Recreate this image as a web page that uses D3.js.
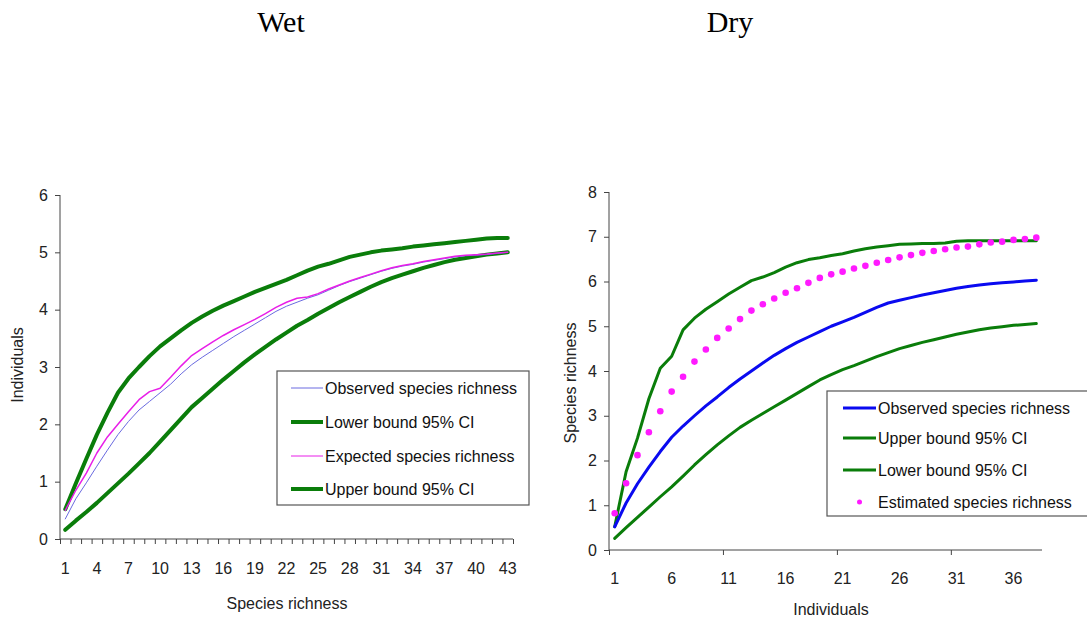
<!DOCTYPE html>
<html><head><meta charset="utf-8">
<script src="https://cdn.jsdelivr.net/npm/d3@7"></script>
<style>
body{margin:0;background:#fff;}
svg{display:block;}
.ax path,.ax line{stroke:#444;}
.ax text{font-family:Arial,"Liberation Sans",sans-serif;fill:#222;}
</style></head>
<body><svg id="c" width="1087" height="622"></svg>
<script>
// ---------- DATA ----------
const wetCategories = d3.range(1, 44);
const wetXTickLabels = d3.range(1, 44, 3);
const wetYTicks = [0, 1, 2, 3, 4, 5, 6];
const wetObserved = [0.35,0.7,0.98,1.27,1.55,1.82,2.05,2.25,2.4,2.55,2.7,2.88,3.04,3.17,3.29,3.41,3.53,3.64,3.75,3.86,3.97,4.06,4.13,4.2,4.26,4.34,4.42,4.49,4.55,4.61,4.67,4.72,4.76,4.79,4.83,4.86,4.89,4.92,4.94,4.95,4.96,4.98,5.0];
const wetExpected = [0.5,0.85,1.15,1.5,1.78,2.0,2.22,2.43,2.57,2.63,2.82,3.02,3.2,3.32,3.44,3.55,3.65,3.74,3.83,3.93,4.04,4.13,4.2,4.22,4.28,4.36,4.43,4.5,4.56,4.62,4.68,4.73,4.77,4.8,4.84,4.87,4.9,4.93,4.95,4.96,4.97,4.99,5.0];
const wetUpper = [0.52,0.97,1.4,1.82,2.2,2.55,2.8,3.0,3.19,3.36,3.5,3.64,3.77,3.88,3.98,4.07,4.15,4.23,4.31,4.38,4.45,4.52,4.6,4.68,4.75,4.8,4.86,4.92,4.96,5.0,5.03,5.05,5.07,5.1,5.12,5.14,5.16,5.18,5.2,5.22,5.24,5.25,5.25];
const wetLower = [0.16,0.32,0.47,0.63,0.8,0.97,1.14,1.32,1.5,1.7,1.9,2.1,2.3,2.46,2.62,2.78,2.93,3.08,3.22,3.35,3.48,3.6,3.72,3.82,3.93,4.03,4.13,4.22,4.31,4.4,4.48,4.55,4.61,4.67,4.73,4.78,4.83,4.87,4.9,4.93,4.96,4.98,5.0];

const dryCategories = d3.range(1, 39);
const dryXTickLabels = d3.range(1, 39, 5);
const dryYTicks = [0, 1, 2, 3, 4, 5, 6, 7, 8];
const dryObserved = [0.52,1.05,1.48,1.85,2.2,2.52,2.77,3.0,3.22,3.42,3.63,3.82,4.0,4.18,4.35,4.5,4.64,4.76,4.88,5.0,5.1,5.2,5.31,5.42,5.52,5.58,5.64,5.7,5.75,5.8,5.85,5.89,5.92,5.95,5.97,5.99,6.01,6.03];
const dryUpper = [0.52,1.75,2.5,3.38,4.06,4.33,4.92,5.18,5.38,5.55,5.72,5.87,6.02,6.1,6.2,6.32,6.42,6.49,6.53,6.58,6.62,6.68,6.73,6.77,6.8,6.83,6.84,6.85,6.85,6.86,6.9,6.91,6.91,6.91,6.91,6.91,6.91,6.91];
const dryLower = [0.26,0.5,0.73,0.96,1.19,1.41,1.65,1.9,2.13,2.35,2.55,2.74,2.9,3.05,3.2,3.35,3.5,3.65,3.8,3.92,4.03,4.12,4.22,4.32,4.41,4.5,4.57,4.64,4.7,4.76,4.82,4.87,4.92,4.96,4.99,5.02,5.04,5.06];
const dryEstimated = [0.82,1.49,2.12,2.63,3.1,3.54,3.87,4.21,4.48,4.74,4.95,5.16,5.35,5.49,5.62,5.75,5.85,5.97,6.08,6.16,6.22,6.29,6.35,6.42,6.48,6.54,6.59,6.64,6.68,6.72,6.76,6.78,6.83,6.87,6.89,6.93,6.95,6.98];

const titles = ["Wet", "Dry"];

// ---------- DRAW ----------
const svg = d3.select("#c");
const GREEN = "#0a7d0a";
const FONT = 'Arial,"Liberation Sans",sans-serif';

function panel(o) {
  const n = o.cats.length;
  const xb = d3.scaleBand().domain(o.cats).range(o.xr).padding(0);
  const xl = d3.scaleLinear().domain([0, n]).range(o.xr);
  const y = d3.scaleLinear().domain(o.yd).range(o.yr);
  const cx = c => xb(c) + xb.bandwidth() / 2;
  const g = svg.append("g");

  // y axis
  const ya = g.append("g").attr("class", "ax").attr("transform", `translate(${o.xr[0]},0)`)
    .call(d3.axisLeft(y).tickValues(o.yTicks).tickSize(5).tickPadding(7).tickFormat(d3.format("d")));
  ya.selectAll("text").style("font-size", o.tickFont + "px");
  // x axis (ticks on category boundaries)
  const xa = g.append("g").attr("class", "ax").attr("transform", `translate(0,${o.yr[0]})`)
    .call(d3.axisBottom(xl).tickValues(o.xTickVals).tickSize(5).tickFormat(""));
  xa.select(".domain").attr("d", `M${o.xr[0]},0H${o.xr[1]}`);
  ya.select(".domain").attr("d", `M0,${o.yr[0]}V${o.yr[1]}`);
  g.append("g").selectAll("text").data(o.xLabels).join("text")
    .attr("x", d => cx(d)).attr("y", o.yr[0] + o.xLabelDy)
    .attr("text-anchor", "middle").style("font-family", FONT).style("font-size", o.tickFont + "px")
    .attr("fill", "#222").text(d => d);

  // series
  o.series.forEach(s => {
    if (s.dots) {
      g.append("g").selectAll("circle").data(s.values).join("circle")
        .attr("cx", (v, i) => cx(o.cats[i])).attr("cy", v => y(v)).attr("r", s.r).attr("fill", s.color);
    } else {
      g.append("path").datum(s.values)
        .attr("d", d3.line().x((v, i) => cx(o.cats[i])).y(v => y(v)))
        .attr("fill", "none").attr("stroke", s.color).attr("stroke-width", s.w)
        .attr("stroke-linejoin", "round").attr("stroke-linecap", "round");
    }
  });

  // axis titles
  g.append("text").attr("x", o.xTitle[0]).attr("y", o.xTitle[1]).attr("text-anchor", "middle")
    .style("font-family", FONT).style("font-size", "16px").attr("fill", "#222").text(o.xTitleText);
  g.append("text").attr("transform", `translate(${o.yTitle[0]},${o.yTitle[1]}) rotate(-90)`)
    .attr("text-anchor", "middle").style("font-family", FONT).style("font-size", "16px")
    .attr("fill", "#222").text(o.yTitleText);

  // legend
  const L = o.legend;
  g.append("rect").attr("x", L.x).attr("y", L.y).attr("width", L.w).attr("height", L.h)
    .attr("fill", "#fff").attr("stroke", "#555").attr("stroke-width", 1.2);
  L.items.forEach((it, i) => {
    const yy = L.rows[i];
    if (it.dots) {
      g.append("circle").attr("cx", L.sx0 + (L.sx1 - L.sx0) / 2).attr("cy", yy).attr("r", 2.5).attr("fill", it.color);
    } else {
      g.append("line").attr("x1", L.sx0).attr("x2", L.sx1).attr("y1", yy).attr("y2", yy)
        .attr("stroke", it.color).attr("stroke-width", it.lw);
    }
    g.append("text").attr("x", L.sx1 + 2).attr("y", yy + 5.5).style("font-family", FONT)
      .style("font-size", L.font + "px").attr("fill", "#111").text(it.label);
  });
}

panel({
  cats: wetCategories, xr: [60, 513], yd: [0, 6], yr: [539, 195],
  yTicks: wetYTicks, xTickVals: d3.range(0, 44), xLabels: wetXTickLabels, xLabelDy: 35, tickFont: 16,
  series: [
    { values: wetUpper, color: GREEN, w: 4 },
    { values: wetLower, color: GREEN, w: 4 },
    { values: wetObserved, color: "#6a6ae0", w: 1 },
    { values: wetExpected, color: "#e81ee8", w: 1.5 }
  ],
  xTitle: [287, 609], xTitleText: "Species richness",
  yTitle: [23, 365], yTitleText: "Individuals",
  legend: { x: 277, y: 371, w: 252, h: 134, sx0: 291, sx1: 323, rows: [388, 422, 456, 489], font: 16,
    items: [
      { label: "Observed species richness", color: "#6a6ae0", lw: 1 },
      { label: "Lower bound 95% CI", color: GREEN, lw: 4 },
      { label: "Expected species richness", color: "#e81ee8", lw: 1 },
      { label: "Upper bound 95% CI", color: GREEN, lw: 4 }
    ] }
});

panel({
  cats: dryCategories, xr: [609, 1042], yd: [0, 8], yr: [550, 192],
  yTicks: dryYTicks, xTickVals: [0, 10, 20, 30], xLabels: dryXTickLabels, xLabelDy: 34, tickFont: 16,
  series: [
    { values: dryUpper, color: GREEN, w: 3 },
    { values: dryLower, color: GREEN, w: 3 },
    { values: dryObserved, color: "#0a0af0", w: 3 },
    { values: dryEstimated, color: "#ff1aff", dots: true, r: 3.3 }
  ],
  xTitle: [831, 615], xTitleText: "Individuals",
  yTitle: [576, 383], yTitleText: "Species richness",
  legend: { x: 827, y: 391, w: 265, h: 125, sx0: 843, sx1: 876, rows: [408, 438, 470, 502], font: 16,
    items: [
      { label: "Observed species richness", color: "#0a0af0", lw: 3 },
      { label: "Upper bound 95% CI", color: GREEN, lw: 3 },
      { label: "Lower bound 95% CI", color: GREEN, lw: 3 },
      { label: "Estimated species richness", color: "#ff1aff", dots: true }
    ] }
});

// titles
svg.selectAll("text.title").data(titles).join("text").attr("class", "title")
  .attr("x", (d, i) => [281, 730][i]).attr("y", 32).attr("text-anchor", "middle")
  .style("font-family", '"Liberation Serif","Times New Roman",serif').style("font-size", "30px")
  .attr("fill", "#000").text(d => d);
</script></body></html>
